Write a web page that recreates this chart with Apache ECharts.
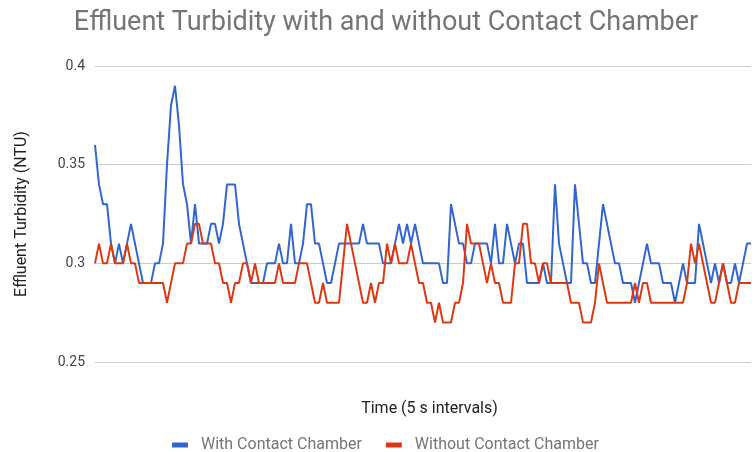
<!DOCTYPE html>
<html>
<head>
<meta charset="utf-8">
<script src="https://cdn.jsdelivr.net/npm/echarts@6/dist/echarts.min.js"></script>
<style>
  html, body { margin: 0; padding: 0; background: #fff; }
  #main { width: 752px; height: 452px; }
</style>
</head>
<body>
<div id="main"></div>
<script>
// turbidity readings, one every 5 s
var withChamber = [
    0.36, 0.34, 0.33, 0.33, 0.31, 0.30, 0.31, 0.30, 0.31, 0.32,
    0.31, 0.30, 0.29, 0.29, 0.29, 0.30, 0.30, 0.31, 0.35, 0.38,
    0.39, 0.37, 0.34, 0.33, 0.31, 0.33, 0.31, 0.31, 0.31, 0.32,
    0.32, 0.31, 0.32, 0.34, 0.34, 0.34, 0.32, 0.31, 0.30, 0.29,
    0.29, 0.29, 0.29, 0.30, 0.30, 0.30, 0.31, 0.30, 0.30, 0.32,
    0.30, 0.30, 0.31, 0.33, 0.33, 0.31, 0.31, 0.30, 0.29, 0.29,
    0.30, 0.31, 0.31, 0.31, 0.31, 0.31, 0.31, 0.32, 0.31, 0.31,
    0.31, 0.31, 0.30, 0.30, 0.30, 0.31, 0.32, 0.31, 0.32, 0.31,
    0.32, 0.31, 0.30, 0.30, 0.30, 0.30, 0.30, 0.29, 0.29, 0.33,
    0.32, 0.31, 0.31, 0.30, 0.30, 0.31, 0.31, 0.31, 0.31, 0.30,
    0.32, 0.30, 0.30, 0.32, 0.31, 0.30, 0.31, 0.31, 0.29, 0.29,
    0.29, 0.29, 0.30, 0.29, 0.29, 0.34, 0.31, 0.30, 0.29, 0.29,
    0.34, 0.32, 0.30, 0.30, 0.29, 0.29, 0.31, 0.33, 0.32, 0.31,
    0.30, 0.30, 0.29, 0.29, 0.29, 0.28, 0.29, 0.30, 0.31, 0.30,
    0.30, 0.30, 0.29, 0.29, 0.29, 0.28, 0.29, 0.30, 0.29, 0.29,
    0.29, 0.32, 0.31, 0.30, 0.29, 0.30, 0.29, 0.30, 0.29, 0.29,
    0.30, 0.29, 0.30, 0.31, 0.31
];
var withoutChamber = [
    0.30, 0.31, 0.30, 0.30, 0.31, 0.30, 0.30, 0.30, 0.31, 0.30,
    0.30, 0.29, 0.29, 0.29, 0.29, 0.29, 0.29, 0.29, 0.28, 0.29,
    0.30, 0.30, 0.30, 0.31, 0.31, 0.32, 0.32, 0.31, 0.31, 0.31,
    0.30, 0.30, 0.29, 0.29, 0.28, 0.29, 0.29, 0.30, 0.30, 0.29,
    0.30, 0.29, 0.29, 0.29, 0.29, 0.29, 0.30, 0.29, 0.29, 0.29,
    0.29, 0.30, 0.30, 0.30, 0.29, 0.28, 0.28, 0.29, 0.28, 0.28,
    0.28, 0.28, 0.30, 0.32, 0.31, 0.30, 0.29, 0.28, 0.28, 0.29,
    0.28, 0.29, 0.29, 0.31, 0.30, 0.31, 0.30, 0.30, 0.30, 0.31,
    0.30, 0.29, 0.29, 0.28, 0.28, 0.27, 0.28, 0.27, 0.27, 0.27,
    0.28, 0.28, 0.29, 0.32, 0.31, 0.31, 0.31, 0.30, 0.29, 0.30,
    0.29, 0.29, 0.28, 0.28, 0.28, 0.30, 0.30, 0.32, 0.32, 0.30,
    0.30, 0.29, 0.30, 0.30, 0.29, 0.29, 0.29, 0.29, 0.29, 0.28,
    0.28, 0.28, 0.27, 0.27, 0.27, 0.28, 0.30, 0.29, 0.28, 0.28,
    0.28, 0.28, 0.28, 0.28, 0.28, 0.29, 0.28, 0.29, 0.29, 0.28,
    0.28, 0.28, 0.28, 0.28, 0.28, 0.28, 0.28, 0.28, 0.29, 0.31,
    0.30, 0.31, 0.30, 0.29, 0.28, 0.28, 0.29, 0.30, 0.29, 0.28,
    0.28, 0.29, 0.29, 0.29, 0.29
];
var seriesNames = ['With Contact Chamber', 'Without Contact Chamber'];
var yTicks = [0.25, 0.3, 0.35, 0.4];
// sample index along the x axis (no tick labels shown)
var timeSteps = withChamber.map(function (v, i) { return i + 1; });

var chartDom = document.getElementById('main');
var myChart = echarts.init(chartDom);
var option;

option = {
    animation: false,
    textStyle: { fontFamily: 'Roboto' },
    color: ['#3366cc', '#dc3912'],
    title: {
        text: 'Effluent Turbidity with and without Contact Chamber',
        left: 381,
        textAlign: 'center',
        top: 5,
        textStyle: { fontFamily: 'Roboto', fontSize: 27, fontWeight: 'normal', color: '#757575' }
    },
    legend: {
        top: 432,
        left: 167,
        icon: 'rect',
        itemWidth: 16,
        itemHeight: 5,
        itemGap: 24,
        data: seriesNames,
        textStyle: { fontFamily: 'Roboto', fontSize: 16, color: '#757575', padding: [0, 0, 0, 8] }
    },
    grid: { left: 95, right: 1, top: 66, bottom: 90 },
    xAxis: {
        type: 'category',
        data: timeSteps,
        boundaryGap: false,
        name: 'Time (5 s intervals)',
        nameLocation: 'middle',
        nameGap: 39,
        nameTextStyle: { fontFamily: 'Roboto', fontSize: 16, color: '#222', padding: [0, 0, 0, 13] },
        axisLine: { show: false },
        axisTick: { show: false },
        axisLabel: { show: false },
        splitLine: { show: false }
    },
    yAxis: {
        type: 'value',
        min: yTicks[0],
        max: yTicks[yTicks.length - 1],
        interval: 0.05,
        name: 'Effluent Turbidity (NTU)',
        nameLocation: 'middle',
        nameGap: 65,
        nameTextStyle: { fontFamily: 'Roboto', fontSize: 16, color: '#222' },
        axisLine: { show: false },
        axisTick: { show: false },
        axisLabel: {
            margin: 10,
            fontSize: 14,
            color: '#444',
            formatter: function (v) { return String(+v.toFixed(2)); }
        },
        splitLine: { lineStyle: { color: '#cccccc', width: 1 } }
    },
    series: [
        {
            name: seriesNames[0],
            type: 'line',
            data: withChamber,
            symbol: 'none',
            lineStyle: { width: 2 }
        },
        {
            name: seriesNames[1],
            type: 'line',
            data: withoutChamber,
            symbol: 'none',
            lineStyle: { width: 2 }
        }
    ]
};
myChart.setOption(option);
</script>
</body>
</html>
